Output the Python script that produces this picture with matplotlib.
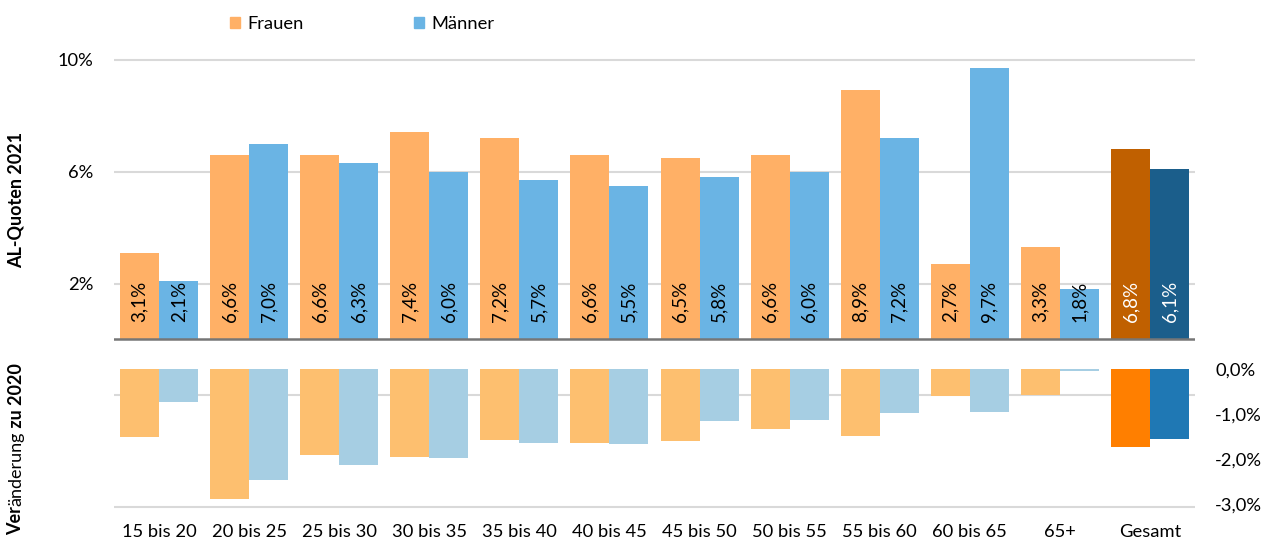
import matplotlib
matplotlib.use('Agg')
import matplotlib.pyplot as plt
from matplotlib.patches import Patch
import numpy as np

plt.rcParams['font.family'] = ['Lato', 'DejaVu Sans']

groups = ['15 bis 20', '20 bis 25', '25 bis 30', '30 bis 35', '35 bis 40', '40 bis 45',
          '45 bis 50', '50 bis 55', '55 bis 60', '60 bis 65', '65+', 'Gesamt']
quote_frauen = [3.1, 6.6, 6.6, 7.4, 7.2, 6.6, 6.5, 6.6, 8.9, 2.7, 3.3, 6.8]
quote_maenner = [2.1, 7.0, 6.3, 6.0, 5.7, 5.5, 5.8, 6.0, 7.2, 9.7, 1.8, 6.1]
diff_frauen = [-1.52, -2.88, -1.90, -1.96, -1.57, -1.64, -1.60, -1.33, -1.48, -0.60, -0.58, -1.73]
diff_maenner = [-0.74, -2.46, -2.13, -1.97, -1.64, -1.66, -1.15, -1.13, -0.97, -0.96, -0.04, -1.55]

# colours: age groups / total
top_f = ['#FFB066'] * 11 + ['#C06000']
top_m = ['#6AB4E4'] * 11 + ['#1B5E8B']
bot_f = ['#FDBF6F'] * 11 + ['#FF7F00']
bot_m = ['#A6CEE3'] * 11 + ['#1F78B4']
lbl_col = ['black'] * 11 + ['white']

x = np.arange(len(groups))
w = 0.433
fs = 13.2

fig = plt.figure(figsize=(12.72, 5.48), dpi=100)
ax = fig.add_axes([114 / 1272, 1 - 513 / 548, 1081 / 1272, 459 / 548])
ax2 = ax.twinx()

ax.bar(x - w / 2, quote_frauen, w, color=top_f, zorder=2)
ax.bar(x + w / 2, quote_maenner, w, color=top_m, zorder=2)
ax2.bar(x - w / 2, diff_frauen, w, color=bot_f, zorder=2)
ax2.bar(x + w / 2, diff_maenner, w, color=bot_m, zorder=2)

for i in range(len(groups)):
    for xi, v in ((x[i] - w / 2, quote_frauen[i]), (x[i] + w / 2, quote_maenner[i])):
        ax.annotate(f"{v:.1f}%".replace('.', ','), (xi, 0), xytext=(0, 12.5),
                    textcoords='offset points', rotation=90, ha='center', va='bottom',
                    fontsize=13.5, color=lbl_col[i], zorder=3)

ax.set_xlim(-0.5, 11.5)
ax.set_ylim(-6.2, 10.2)
ax2.set_ylim(-3.2, 7.0)

ax.set_axisbelow(True)
ax.set_yticks([-6, -2, 2, 6, 10], ['', '', '2%', '6%', '10%'])
ax.grid(axis='y', color='#D9D9D9', lw=1.5)
ax.axhline(0, color='#767676', lw=1.8, zorder=4)
ax.set_xticks(x, groups)
ax.tick_params(axis='both', length=0, labelsize=fs)
ax.tick_params(axis='y', pad=15)
ax.tick_params(axis='x', pad=8)

ax2.set_yticks([0, -1, -2, -3], ['0,0%', '-1,0%', '-2,0%', '-3,0%'])
ax2.tick_params(axis='y', length=0, labelsize=fs, pad=14.5)

for a in (ax, ax2):
    for s in a.spines.values():
        s.set_visible(False)

fig.legend(handles=[Patch(color='#FFB066', label='Frauen'), Patch(color='#6AB4E4', label='Männer')],
           loc='center left', bbox_to_anchor=(230 / 1272, 1 - 24 / 548), ncol=2, frameon=False,
           fontsize=fs, handlelength=0.55, handleheight=0.6, handletextpad=0.4,
           columnspacing=6.0, borderpad=0, borderaxespad=0)

fig.text(16 / 1272, 1 - 200 / 548, 'AL-Quoten 2021', rotation=90, fontweight='bold',
         fontsize=13, ha='center', va='center')

# second title: mixed weights, built from the top downwards
renderer = fig.canvas.get_renderer()
y_top = 1 - 363 / 548
for txt, wt in ((' zu 2020', 'bold'), ('änderung', 'normal'), ('Ver', 'bold')):
    t = fig.text(16 / 1272, y_top, txt, rotation=90, fontweight=wt, fontsize=13,
                 ha='center', va='top')
    bb = t.get_window_extent(renderer).transformed(fig.transFigure.inverted())
    y_top = bb.y0

fig.savefig('out.png', dpi=100)
